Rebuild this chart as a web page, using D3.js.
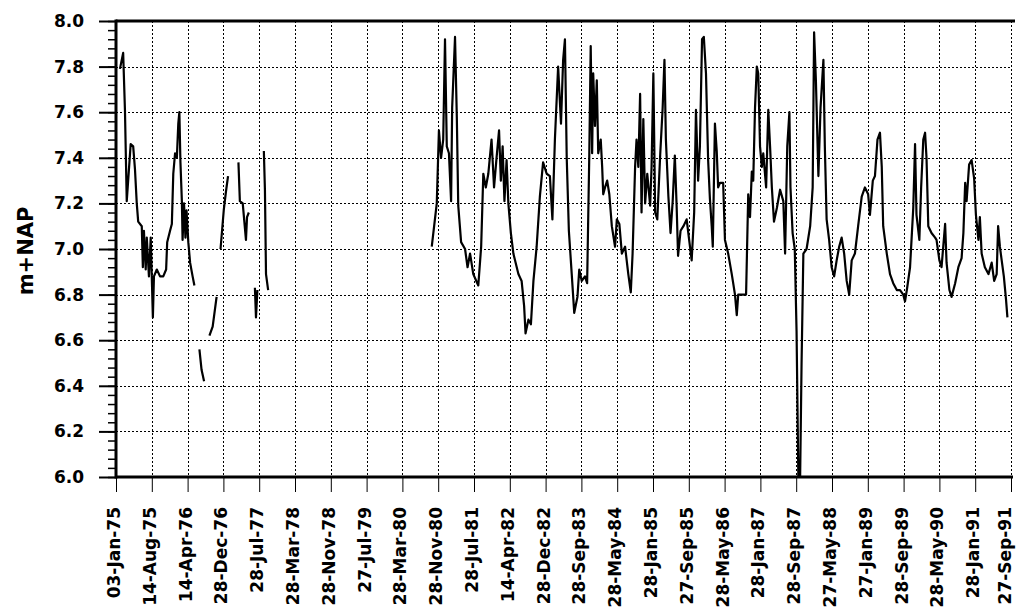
<!DOCTYPE html>
<html>
<head>
<meta charset="utf-8">
<script src="https://cdn.jsdelivr.net/npm/d3@7"></script>
<style>
    body { margin: 0; background: #fff; }
    svg { display: block; font-family: "DejaVu Sans", sans-serif; font-weight: bold; }
</style>
</head>
<body>
<svg id="chart" width="1016" height="607"></svg>
<script>
// tick labels along the bottom - evenly spaced, one per interval
var tickLabels = [
    "03-Jan-75", "14-Aug-75", "14-Apr-76", "28-Dec-76", "28-Jul-77", "28-Mar-78",
    "28-Nov-78", "27-Jul-79", "28-Mar-80", "28-Nov-80", "28-Jul-81", "14-Apr-82",
    "28-Dec-82", "28-Sep-83", "28-May-84", "28-Jan-85", "27-Sep-85", "28-May-86",
    "28-Jan-87", "28-Sep-87", "27-May-88", "27-Jan-89", "28-Sep-89", "28-May-90",
    "28-Jan-91", "27-Sep-91"
];

var yTicks = [6.0, 6.2, 6.4, 6.6, 6.8, 7.0, 7.2, 7.4, 7.6, 7.8, 8.0];

// position on the date axis (in label intervals) and water level, null = no data
var pos = [
    0.11, 0.20, 0.25, 0.30, 0.41, 0.48, 0.53, 0.58, 0.62, 0.72, 0.75, 0.78, 0.83, 0.86, 0.92, 0.97,
    1.03, 1.06, 1.14, 1.23, 1.32, 1.40, 1.43, 1.51, 1.56, 1.60, 1.65, 1.70, 1.74, 1.77, 1.80, 1.84,
    1.86, 1.90, 1.94, 1.97, 2.02, 2.07, 2.14, 2.19,
    2.26,
    2.33, 2.39, 2.46,
    2.53,
    2.61, 2.70, 2.81,
    2.86,
    2.92, 3.01, 3.07, 3.13,
    3.30,
    3.42, 3.46, 3.54, 3.63, 3.66, 3.71,
    3.80,
    3.88, 3.91, 3.95,
    4.05,
    4.13, 4.16, 4.19, 4.25,
    6.50,
    8.82, 8.96, 9.02, 9.08, 9.14, 9.19, 9.24, 9.30, 9.36, 9.39, 9.47, 9.52, 9.56, 9.64, 9.75, 9.82,
    9.89, 9.98, 10.12, 10.20, 10.26, 10.33, 10.40, 10.49, 10.56, 10.63, 10.70, 10.75, 10.80, 10.85,
    10.91, 10.96, 11.03, 11.10, 11.24, 11.33, 11.40, 11.44, 11.52, 11.59, 11.66, 11.75, 11.84, 11.93,
    12.03, 12.12, 12.19, 12.26, 12.35, 12.43, 12.49, 12.54, 12.59, 12.65, 12.73, 12.80, 12.89, 12.94,
    13.01, 13.10, 13.16, 13.22, 13.26, 13.30, 13.33, 13.38, 13.43, 13.47, 13.54, 13.58, 13.61, 13.66,
    13.72, 13.78, 13.85, 13.94, 13.99, 14.06, 14.13, 14.22, 14.31, 14.38, 14.43, 14.50, 14.54, 14.59,
    14.64, 14.68, 14.73, 14.78, 14.84, 14.92, 14.96, 15.01, 15.06, 15.12, 15.20, 15.27, 15.32, 15.36,
    15.43, 15.49, 15.55, 15.61, 15.66, 15.70, 15.77, 15.85, 15.94, 16.01, 16.08, 16.15, 16.20, 16.26,
    16.31, 16.37, 16.42, 16.48, 16.54, 16.59, 16.64, 16.67, 16.73, 16.78, 16.82, 16.87, 16.96, 17.01,
    17.10, 17.20, 17.24, 17.29, 17.34, 17.38, 17.48, 17.60, 17.66, 17.71, 17.76, 17.80, 17.85, 17.90,
    17.94, 17.99, 18.04, 18.08, 18.16, 18.22, 18.27, 18.32, 18.38, 18.46, 18.55, 18.64, 18.69, 18.75,
    18.81, 18.84, 18.90, 18.96, 19.01, 19.06, 19.11, 19.15, 19.20, 19.29, 19.39, 19.46, 19.50, 19.55,
    19.62, 19.68, 19.76, 19.80, 19.85, 19.92, 19.99, 20.06, 20.13, 20.20, 20.27, 20.34, 20.41, 20.48,
    20.55, 20.64, 20.73, 20.83, 20.92, 21.01, 21.06, 21.14, 21.20, 21.27, 21.34, 21.39, 21.43, 21.53,
    21.62, 21.71, 21.81, 21.90, 21.99, 22.04, 22.10, 22.18, 22.27, 22.32, 22.36, 22.44, 22.49, 22.55,
    22.60, 22.64, 22.69, 22.78, 22.88, 22.92, 23.00, 23.06, 23.16, 23.20, 23.28, 23.34, 23.44, 23.53,
    23.62, 23.67, 23.72, 23.76, 23.83, 23.90, 23.97, 24.02, 24.09, 24.13, 24.18, 24.27, 24.37, 24.46,
    24.53, 24.60, 24.64, 24.69, 24.74, 24.80, 24.86, 24.90
];

var level = [
    7.79, 7.86, 7.61, 7.21, 7.46, 7.45, 7.35, 7.20, 7.12, 7.10, 6.92, 7.08, 6.91, 7.05, 6.88, 7.05,
    6.70, 6.88, 6.91, 6.88, 6.88, 6.91, 7.03, 7.08, 7.11, 7.33, 7.42, 7.40, 7.55, 7.60, 7.38, 7.21,
    7.04, 7.20, 7.05, 7.17, 7.03, 6.94, 6.88, 6.84,
    null,
    6.56, 6.47, 6.42,
    null,
    6.62, 6.66, 6.79,
    null,
    7.00, 7.17, 7.25, 7.32,
    null,
    7.38, 7.21, 7.20, 7.04, 7.14, 7.16,
    null,
    6.83, 6.70, 6.82,
    null,
    7.43, 7.26, 6.89, 6.82,
    null,
    7.01, 7.20, 7.52, 7.40, 7.48, 7.92, 7.45, 7.42, 7.21, 7.62, 7.93, 7.58, 7.19, 7.03, 7.00, 6.92,
    6.98, 6.89, 6.84, 7.01, 7.33, 7.27, 7.33, 7.48, 7.27, 7.40, 7.52, 7.30, 7.45, 7.21,
    7.39, 7.20, 7.07, 6.98, 6.89, 6.86, 6.75, 6.63, 6.69, 6.67, 6.86, 7.01, 7.23, 7.38,
    7.33, 7.32, 7.13, 7.48, 7.80, 7.55, 7.83, 7.92, 7.40, 7.08, 6.89, 6.72, 6.79, 6.91,
    6.86, 6.88, 6.85, 7.41, 7.89, 7.42, 7.77, 7.54, 7.74, 7.42, 7.48, 7.36, 7.24, 7.27,
    7.30, 7.24, 7.10, 7.01, 7.13, 7.11, 6.98, 7.01, 6.89, 6.81, 6.98, 7.36, 7.48, 7.36,
    7.68, 7.16, 7.57, 7.20, 7.33, 7.19, 7.36, 7.77, 7.16, 7.13, 7.41, 7.62, 7.83, 7.48,
    7.23, 7.07, 7.21, 7.41, 7.19, 6.97, 7.08, 7.10, 7.13, 7.04, 6.95, 7.16, 7.61, 7.30,
    7.45, 7.92, 7.93, 7.77, 7.39, 7.22, 7.10, 7.01, 7.55, 7.43, 7.27, 7.29, 7.29, 7.04,
    6.98, 6.89, 6.85, 6.80, 6.71, 6.80, 6.80, 6.80, 7.24, 7.14, 7.34, 7.30, 7.62, 7.80,
    7.77, 7.45, 7.36, 7.42, 7.27, 7.61, 7.45, 7.27, 7.12, 7.18, 7.26, 7.21, 6.98, 7.45,
    7.60, 7.27, 7.07, 7.00, 6.64, 6.00, 6.00, 6.50, 6.98, 7.00, 7.10, 7.27, 7.95, 7.74,
    7.32, 7.62, 7.83, 7.45, 7.13, 7.04, 6.92, 6.88, 6.95, 7.01, 7.05, 6.98, 6.86, 6.80,
    6.95, 6.98, 7.10, 7.23, 7.27, 7.24, 7.15, 7.30, 7.32, 7.48, 7.51, 7.36, 7.10, 6.98,
    6.89, 6.85, 6.82, 6.82, 6.80, 6.77, 6.83, 6.92, 7.18, 7.46, 7.15, 7.04, 7.27, 7.48,
    7.51, 7.40, 7.10, 7.07, 7.05, 7.04, 6.95, 6.92, 7.11, 6.94, 6.82, 6.79, 6.85, 6.92,
    6.96, 7.07, 7.29, 7.21, 7.37, 7.39, 7.31, 7.15, 7.04, 7.14, 6.98, 6.92, 6.89, 6.94,
    6.86, 6.89, 7.10, 7.01, 6.95, 6.88, 6.78, 6.70
];

var svg = d3.select("#chart");

var mLeft = 116, mRight = 1011, mTop = 21, mBottom = 477;

var x = d3.scaleLinear().domain([0, tickLabels.length - 1]).range([mLeft, mRight]);
var y = d3.scaleLinear().domain([6.0, 8.0]).range([mBottom, mTop]);

// dotted grid
var grid = svg.append("g").attr("stroke", "#000").attr("stroke-width", 1)
    .attr("stroke-dasharray", "2,2");
grid.selectAll(".vg").data(d3.range(1, tickLabels.length)).enter().append("line")
    .attr("x1", d => Math.round(x(d)) + 0.5).attr("x2", d => Math.round(x(d)) + 0.5)
    .attr("y1", mTop).attr("y2", mBottom);
grid.selectAll(".hg").data(yTicks.slice(1, -1)).enter().append("line")
    .attr("y1", d => Math.round(y(d)) + 0.5).attr("y2", d => Math.round(y(d)) + 0.5)
    .attr("x1", mLeft).attr("x2", mRight);

// the series - gaps where there is no data
var data = pos.map((p, i) => ({ p: p, v: level[i] }));
var line = d3.line()
    .defined(d => d.v != null)
    .x(d => x(d.p))
    .y(d => y(d.v));
svg.append("path").datum(data)
    .attr("d", line)
    .attr("fill", "none")
    .attr("stroke", "#000")
    .attr("stroke-width", 2.2)
    .attr("stroke-linejoin", "round");

// y axis, minor ticks first
svg.append("g")
    .attr("transform", "translate(" + mLeft + ",0)")
    .call(d3.axisLeft(y).tickValues(d3.range(0, 51).map(i => 6 + i * 0.04)).tickSize(8).tickFormat(""))
    .call(g => g.select(".domain").remove())
    .selectAll("line").attr("stroke", "#000").attr("stroke-width", 1.5);

var yAxis = svg.append("g")
    .attr("transform", "translate(" + mLeft + ",0)")
    .call(d3.axisLeft(y).tickValues(yTicks).tickSize(17).tickPadding(15).tickFormat(d3.format(".1f")));
yAxis.select(".domain").remove();
yAxis.selectAll("line").attr("stroke", "#000").attr("stroke-width", 2);
yAxis.selectAll("text")
    .attr("fill", "#000")
    .style("font-size", "17px")
    .style("font-family", "DejaVu Sans")
    .style("font-weight", "bold");

// x axis, labels turned upright
var xAxis = svg.append("g")
    .attr("transform", "translate(0," + mBottom + ")")
    .call(d3.axisBottom(x).tickValues(d3.range(tickLabels.length)).tickSize(15).tickFormat(i => tickLabels[i]));
xAxis.select(".domain").remove();
xAxis.selectAll("line").attr("stroke", "#000").attr("stroke-width", 1);
xAxis.selectAll("text")
    .attr("transform", "rotate(-90)")
    .attr("text-anchor", "end")
    .attr("x", -30)
    .attr("y", d => d === tickLabels.length - 1 ? -1 : 3.5) // last one kept inside the page
    .attr("dy", null)
    .attr("fill", "#000")
    .style("font-size", "17px")
    .style("font-family", "DejaVu Sans")
    .style("font-weight", "bold");

// heavy frame lines: left, bottom, top
svg.append("line").attr("x1", mLeft).attr("x2", mLeft).attr("y1", mTop - 1.5).attr("y2", mBottom + 1.5)
    .attr("stroke", "#000").attr("stroke-width", 3);
svg.append("line").attr("x1", mLeft).attr("x2", mRight + 2).attr("y1", mBottom).attr("y2", mBottom)
    .attr("stroke", "#000").attr("stroke-width", 3);
svg.append("line").attr("x1", mLeft).attr("x2", mRight + 4).attr("y1", mTop).attr("y2", mTop)
    .attr("stroke", "#000").attr("stroke-width", 3);

// axis title
svg.append("text")
    .attr("transform", "translate(33," + ((mTop + mBottom) / 2 + 2) + ") rotate(-90)")
    .attr("text-anchor", "middle")
    .style("font-size", "21px")
    .text("m+NAP");
</script>
</body>
</html>
